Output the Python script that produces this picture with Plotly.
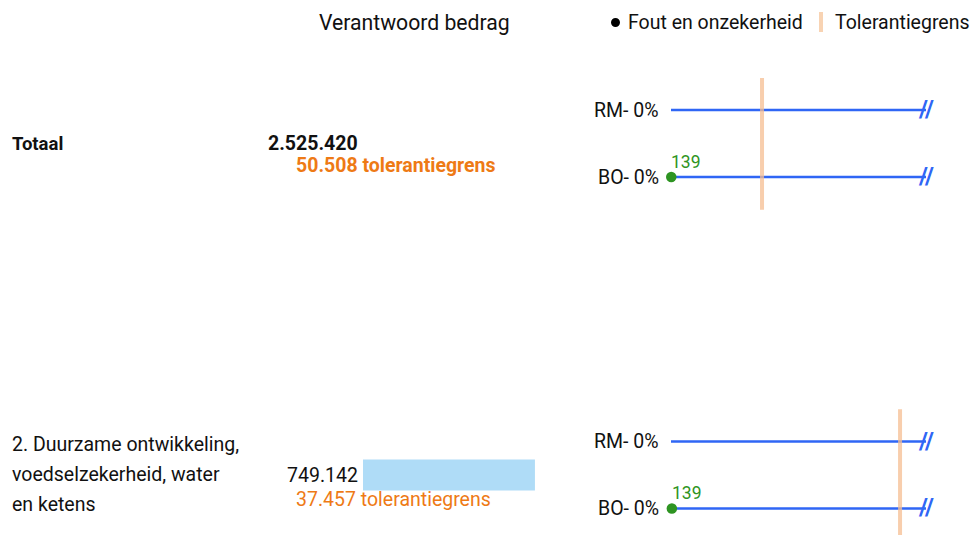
import plotly.graph_objects as go

# ---------------- data ----------------
row_labels = [["Totaal"], ["2. Duurzame ontwikkeling,", "voedselzekerheid, water", "en ketens"]]
row_label_bold = [True, False]
amounts = [2525420, 749142]
amount_text = ["2.525.420", "749.142"]
show_bar = [False, True]
tolerances = [50508, 37457]
tolerance_text = ["50.508 tolerantiegrens", "37.457 tolerantiegrens"]
error_series = ["RM- 0%", "BO- 0%"]
error_values = [[None, 139], [None, 139]]   # per row: RM, BO
error_scale_max = [141500, 41700]           # right end of each row's error scale (break mark)
bar_scale_max = 915000

header = "Verantwoord bedrag"
legend_items = ["Fout en onzekerheid", "Tolerantiegrens"]

# ---------------- style ----------------
W, H = 971, 535
FONT = "Roboto"
FS = 19.5
BLUE = "#2f66f5"
PEACH = "rgba(246,190,145,0.75)"
GREEN = "#2e9422"
ORANGE = "#ee7a15"
BARC = "#afdcf7"
TXT = "#111111"

def px(x):
    return x / W

def py(y):
    return 1 - y / H

row_y = [1, 2]
sub_off = 0.101

fig = go.Figure()

# bars
fig.add_trace(go.Bar(
    x=[a if s else None for a, s in zip(amounts, show_bar)],
    y=row_y, orientation="h", width=0.0935,
    marker=dict(color=BARC, line=dict(width=0)),
    xaxis="x", yaxis="y", hoverinfo="skip", showlegend=False))

annotations = []
err_axes = ["x2", "x3"]
for i, r in enumerate(row_y):
    xa = err_axes[i]
    for j, name in enumerate(error_series):
        yy = r - sub_off if j == 0 else r + sub_off
        fig.add_trace(go.Scatter(
            x=[0, error_scale_max[i]], y=[yy, yy], mode="lines",
            line=dict(color=BLUE, width=2.5), xaxis=xa, yaxis="y",
            hoverinfo="skip", showlegend=False))
        annotations.append(dict(
            x=error_scale_max[i], y=yy, xref=xa, yref="y", text="<b>//</b>",
            showarrow=False, xanchor="center", yanchor="middle", yshift=1,
            font=dict(family=FONT, size=24, color=BLUE)))
        annotations.append(dict(
            x=px(661), y=yy, xref="paper", yref="y", text=name,
            showarrow=False, xanchor="right", yanchor="middle",
            font=dict(family=FONT, size=FS, color=TXT)))
        v = error_values[i][j]
        if v is not None:
            fig.add_trace(go.Scatter(
                x=[v], y=[yy], mode="markers",
                marker=dict(color=GREEN, size=10.5), cliponaxis=False,
                xaxis=xa, yaxis="y", hoverinfo="skip", showlegend=False))
            annotations.append(dict(
                x=v, y=yy, xref=xa, yref="y", text=str(v),
                showarrow=False, xanchor="left", yanchor="bottom", yshift=3, xshift=-2,
                font=dict(family=FONT, size=17.5, color=GREEN)))
    # tolerance line
    fig.add_trace(go.Scatter(
        x=[tolerances[i], tolerances[i]], y=[r - 0.198, r + 0.2], mode="lines",
        line=dict(color=PEACH, width=4), xaxis=xa, yaxis="y",
        hoverinfo="skip", showlegend=False))

    # left texts
    lines = row_labels[i]
    n = len(lines)
    for k, t in enumerate(lines):
        annotations.append(dict(
            x=px(10), y=r, xref="paper", yref="y", text=(f"<b>{t}</b>" if row_label_bold[i] else t),
            showarrow=False, xanchor="left", yanchor="middle",
            yshift=-((k - (n - 1) / 2) * 30) + 1 - (1 if row_label_bold[i] else 0),
            font=dict(family=FONT, size=(18.5 if row_label_bold[i] else FS), color=TXT)))
    bold = row_label_bold[i]
    annotations.append(dict(
        x=px(360), y=r, xref="paper", yref="y",
        text=(f"<b>{amount_text[i]}</b>" if bold else amount_text[i]),
        showarrow=False, xanchor="right", yanchor="middle", yshift=0,
        font=dict(family=FONT, size=FS, color=TXT)))
    annotations.append(dict(
        x=px(294), y=r, xref="paper", yref="y",
        text=(f"<b>{tolerance_text[i]}</b>" if bold else tolerance_text[i]),
        showarrow=False, xanchor="left", yanchor="middle",
        yshift=-22 if i == 0 else -24,
        font=dict(family=FONT, size=FS, color=ORANGE)))

# header
annotations.append(dict(
    x=px(414.5), y=py(22), xref="paper", yref="paper", text=header,
    showarrow=False, xanchor="center", yanchor="middle",
    font=dict(family=FONT, size=21.2, color=TXT)))
# legend
annotations.append(dict(
    x=px(626), y=py(22), xref="paper", yref="paper", text=legend_items[0],
    showarrow=False, xanchor="left", yanchor="middle",
    font=dict(family=FONT, size=FS, color=TXT)))
annotations.append(dict(
    x=px(833), y=py(22), xref="paper", yref="paper", text=legend_items[1],
    showarrow=False, xanchor="left", yanchor="middle",
    font=dict(family=FONT, size=FS, color=TXT)))
shapes = [
    dict(type="circle", xref="paper", yref="paper",
         x0=px(611), x1=px(620), y0=py(18), y1=py(27),
         fillcolor="#000000", line=dict(width=0)),
    dict(type="rect", xref="paper", yref="paper",
         x0=px(819), x1=px(823), y0=py(12), y1=py(32),
         fillcolor="#f8d3b3", line=dict(width=0)),
]

fig.update_layout(
    width=W, height=H,
    margin=dict(l=0, r=0, t=0, b=0),
    paper_bgcolor="white", plot_bgcolor="rgba(0,0,0,0)",
    showlegend=False,
    font=dict(family=FONT),
    annotations=annotations, shapes=shapes,
    xaxis=dict(domain=[px(363), px(573)], range=[0, bar_scale_max], visible=False, fixedrange=True),
    xaxis2=dict(domain=[px(671), px(926)], range=[0, error_scale_max[0]], visible=False, anchor="y"),
    xaxis3=dict(domain=[px(671), px(926)], range=[0, error_scale_max[1]], visible=False, anchor="y"),
    yaxis=dict(domain=[0, 1], range=[2.181, 0.567], visible=False),
)

fig.write_html("out.html", config={"displayModeBar": False},
               post_script="document.body.style.margin='0';document.body.style.overflow='hidden';")
